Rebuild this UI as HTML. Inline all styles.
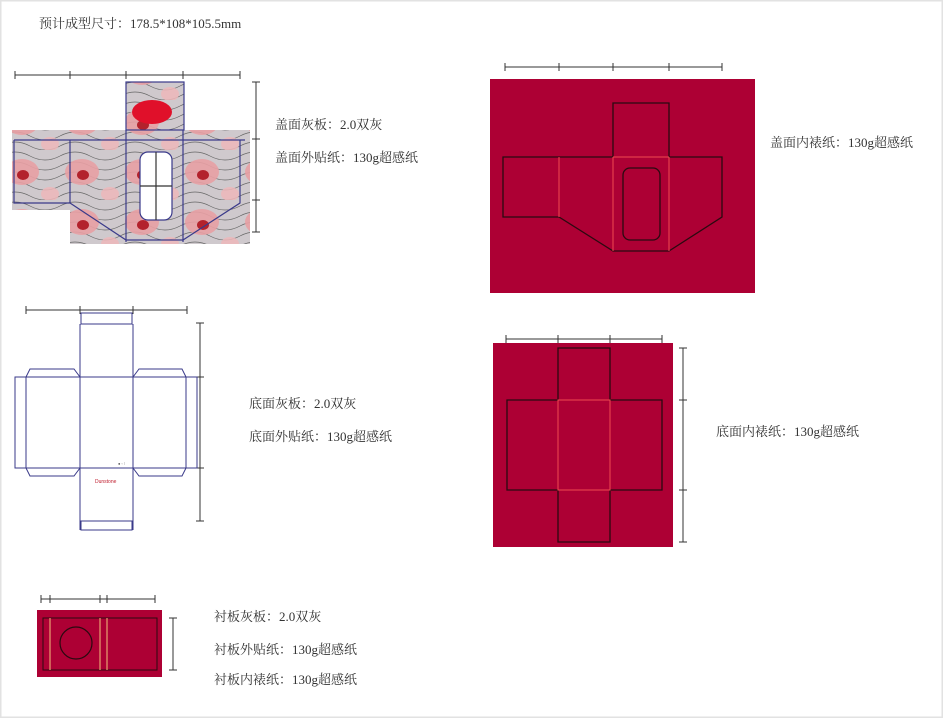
<!DOCTYPE html>
<html><head><meta charset="utf-8"><style>
html,body{margin:0;padding:0;background:#fff;}
body{width:943px;height:718px;position:relative;overflow:hidden;font-family:"Liberation Serif","Noto Serif CJK SC",serif;color:#333;}
.t{position:absolute;font-size:13px;white-space:nowrap;}
svg{position:absolute;left:0;top:0;}
</style></head><body>
<svg width="943" height="718" viewBox="0 0 943 718">
<defs>
<pattern id="fl" width="60" height="50" patternUnits="userSpaceOnUse">
<rect width="60" height="50" fill="#cfc9cd"/>
<path d="M0 6 Q15 -2 30 6 T60 6 M0 16 Q15 8 30 16 T60 16 M0 26 Q15 18 30 26 T60 26 M0 36 Q15 28 30 36 T60 36 M0 46 Q15 38 30 46 T60 46" stroke="#666" stroke-width="0.7" fill="none"/>
<ellipse cx="22" cy="22" rx="17" ry="13" fill="#e8a0a4" opacity="0.9"/>
<ellipse cx="23" cy="25" rx="6" ry="5" fill="#b3222c"/>
<ellipse cx="50" cy="44" rx="9" ry="7" fill="#eeb8ba" opacity="0.85"/>
</pattern>
</defs>
<rect x="0" y="0" width="943" height="718" fill="none" stroke="#e2e2e2" stroke-width="3"/>
<g stroke="#333" stroke-width="1" fill="none">
<line x1="15" y1="75" x2="240" y2="75"/>
<line x1="15" y1="71" x2="15" y2="79"/><line x1="70" y1="71" x2="70" y2="79"/><line x1="126" y1="71" x2="126" y2="79"/><line x1="183" y1="71" x2="183" y2="79"/><line x1="240" y1="71" x2="240" y2="79"/>
<line x1="256" y1="82" x2="256" y2="232"/>
<line x1="252" y1="82" x2="260" y2="82"/><line x1="252" y1="139" x2="260" y2="139"/><line x1="252" y1="200" x2="260" y2="200"/><line x1="252" y1="232" x2="260" y2="232"/>
</g>
<path d="M126 82 H184 V130 H250 V244 H70 V210 H12 V130 H126 Z" fill="url(#fl)"/>
<ellipse cx="152" cy="112" rx="20" ry="12" fill="#e0102a"/>
<g stroke="#3a3a8a" stroke-width="1.2" fill="none">
<rect x="126" y="82" width="58" height="48"/>
<path d="M14 140 H245 M14 140 V203 H70 V140 M70 203 L126 240 H183 L240 203 V140"/>
<rect x="140" y="152" width="32" height="68" rx="8" fill="#fff"/>
<line x1="156" y1="152" x2="156" y2="220" stroke="#333"/><line x1="140" y1="186" x2="172" y2="186" stroke="#333"/>
<line x1="126" y1="130" x2="126" y2="242"/><line x1="183" y1="130" x2="183" y2="242"/>
</g>
<g stroke="#333" stroke-width="1" fill="none">
<line x1="505" y1="67" x2="722" y2="67"/>
<line x1="505" y1="63" x2="505" y2="71"/><line x1="559" y1="63" x2="559" y2="71"/><line x1="613" y1="63" x2="613" y2="71"/><line x1="669" y1="63" x2="669" y2="71"/><line x1="722" y1="63" x2="722" y2="71"/>
</g>
<rect x="490" y="79" width="265" height="214" fill="#ad0034"/>
<path d="M613 103 H669 V157 H722 V217 L669 251 H613 L559 217 H503 V157 H613 Z" fill="none" stroke="#2a0a10" stroke-width="1.3"/>
<g stroke="#f04a50" stroke-width="1" fill="none"><line x1="559" y1="157" x2="559" y2="217"/><line x1="613" y1="157" x2="669" y2="157"/><line x1="613" y1="157" x2="613" y2="251"/><line x1="669" y1="157" x2="669" y2="251"/></g>
<rect x="623" y="168" width="37" height="72" rx="7" fill="none" stroke="#2a0a10" stroke-width="1.3"/>
<g stroke="#333" stroke-width="1" fill="none">
<line x1="26" y1="310" x2="187" y2="310"/>
<line x1="26" y1="306" x2="26" y2="314"/><line x1="80" y1="306" x2="80" y2="314"/><line x1="133" y1="306" x2="133" y2="314"/><line x1="187" y1="306" x2="187" y2="314"/>
<line x1="200" y1="323" x2="200" y2="521"/>
<line x1="196" y1="323" x2="204" y2="323"/><line x1="196" y1="377" x2="204" y2="377"/><line x1="196" y1="468" x2="204" y2="468"/><line x1="196" y1="521" x2="204" y2="521"/>
</g>
<g stroke="#3a3a8a" stroke-width="1" fill="none">
<path d="M81 313 H132 V324 H81 Z M80 324 V530 M133 324 V530 M80 377 H133 M80 468 H133 M80 521 H133 M81 521 V530 H132 V521"/>
<path d="M26 377 V468 M15 377 H26 V468 H15 Z M26 377 L30 369 H74 L80 377 M26 468 L30 476 H74 L80 468 M26 377 H80 M26 468 H80"/>
<path d="M186 377 V468 M186 377 H197 V468 H186 M133 377 L139 369 H182 L186 377 M133 468 L139 476 H182 L186 468 M133 377 H186 M133 468 H186"/>
</g>
<text x="95" y="483" font-size="5" fill="#c02030" font-family="Liberation Sans">Dunstone</text>
<text x="118" y="465" font-size="4" fill="#555">● ◦ ⁝</text>
<g stroke="#333" stroke-width="1" fill="none">
<line x1="506" y1="339" x2="662" y2="339"/>
<line x1="506" y1="335" x2="506" y2="343"/><line x1="558" y1="335" x2="558" y2="343"/><line x1="610" y1="335" x2="610" y2="343"/><line x1="662" y1="335" x2="662" y2="343"/>
<line x1="683" y1="348" x2="683" y2="542"/>
<line x1="679" y1="348" x2="687" y2="348"/><line x1="679" y1="400" x2="687" y2="400"/><line x1="679" y1="490" x2="687" y2="490"/><line x1="679" y1="542" x2="687" y2="542"/>
</g>
<rect x="493" y="343" width="180" height="204" fill="#ad0034"/>
<path d="M558 348 H610 V400 H662 V490 H610 V542 H558 V490 H507 V400 H558 Z" fill="none" stroke="#2a0a10" stroke-width="1.3"/>
<rect x="558" y="400" width="52" height="90" fill="none" stroke="#f04a50" stroke-width="1"/>
<g stroke="#333" stroke-width="1" fill="none">
<line x1="41" y1="599" x2="155" y2="599"/>
<line x1="41" y1="595" x2="41" y2="603"/><line x1="50" y1="595" x2="50" y2="603"/><line x1="100" y1="595" x2="100" y2="603"/><line x1="107" y1="595" x2="107" y2="603"/><line x1="155" y1="595" x2="155" y2="603"/>
<line x1="173" y1="618" x2="173" y2="670"/><line x1="169" y1="618" x2="177" y2="618"/><line x1="169" y1="670" x2="177" y2="670"/>
</g>
<rect x="37" y="610" width="125" height="67" fill="#ad0034"/>
<rect x="43" y="618" width="114" height="52" fill="none" stroke="#2a0a10" stroke-width="1"/>
<g stroke="#e8a070" stroke-width="1.2"><line x1="50" y1="618" x2="50" y2="670"/><line x1="100" y1="618" x2="100" y2="670"/><line x1="107" y1="618" x2="107" y2="670"/></g>
<circle cx="76" cy="643" r="16" fill="none" stroke="#2a0a10" stroke-width="1.2"/>
</svg>
<div class="t" style="left:39px;top:13px;">预计成型尺寸：178.5*108*105.5mm</div>
<div class="t" style="left:275px;top:114px;">盖面灰板：2.0双灰</div>
<div class="t" style="left:275px;top:147px;">盖面外贴纸：130g超感纸</div>
<div class="t" style="left:770px;top:132px;">盖面内裱纸：130g超感纸</div>
<div class="t" style="left:249px;top:393px;">底面灰板：2.0双灰</div>
<div class="t" style="left:249px;top:426px;">底面外贴纸：130g超感纸</div>
<div class="t" style="left:716px;top:421px;">底面内裱纸：130g超感纸</div>
<div class="t" style="left:214px;top:606px;">衬板灰板：2.0双灰</div>
<div class="t" style="left:214px;top:639px;">衬板外贴纸：130g超感纸</div>
<div class="t" style="left:214px;top:669px;">衬板内裱纸：130g超感纸</div>
</body></html>
